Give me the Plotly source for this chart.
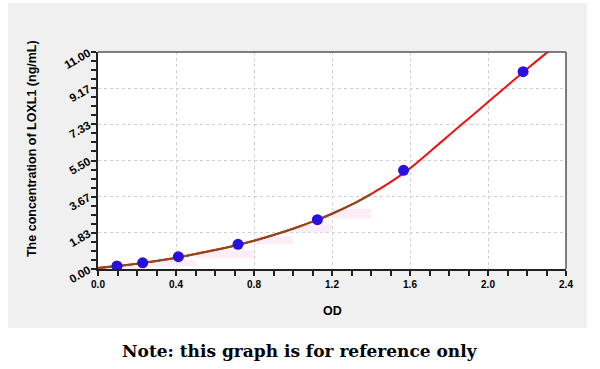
import plotly.graph_objects as go

# Standard points
od_points = [0.097, 0.229, 0.412, 0.718, 1.125, 1.567, 2.18]
conc_points = [0.156, 0.3125, 0.625, 1.25, 2.5, 5.0, 10.0]

# Fitted curve
curve_od = [0.0, 0.1, 0.2, 0.3, 0.4, 0.5, 0.6, 0.7, 0.8, 0.9, 1.0, 1.1, 1.2, 1.3,
            1.4, 1.5, 1.6, 1.7, 1.8, 1.9, 2.0, 2.1, 2.2, 2.3, 2.35]
curve_conc = [0.05, 0.15, 0.27, 0.41, 0.57, 0.76, 0.96, 1.18, 1.43, 1.72, 2.04, 2.40,
              2.80, 3.26, 3.80, 4.40, 5.10, 5.93, 6.78, 7.62, 8.46, 9.30, 10.14, 10.95, 11.35]
brown_od = curve_od[:15]
brown_conc = curve_conc[:15]

# Faint pink band (stepped)
band_od = [0.0, 0.2, 0.5, 0.8, 1.0, 1.2, 1.4]
band_lo = [0.0, 0.15, 0.55, 1.25, 1.85, 2.55, 3.55]
band_hi = [0.15, 0.45, 0.95, 1.65, 2.25, 3.05, 4.05]

y_ticks = [0.0, 1.83, 3.67, 5.50, 7.33, 9.17, 11.0]
y_tick_text = ["0.00", "1.83", "3.67", "5.50", "7.33", "9.17", "11.00"]
x_ticks = [0.0, 0.4, 0.8, 1.2, 1.6, 2.0, 2.4]
x_tick_text = ["0.0", "0.4", "0.8", "1.2", "1.6", "2.0", "2.4"]

FONT = "Liberation Sans"

fig = go.Figure()
fig.add_trace(go.Scatter(x=band_od, y=band_lo, mode="lines", line=dict(width=0, shape="hv"),
                         hoverinfo="skip", showlegend=False))
fig.add_trace(go.Scatter(x=band_od, y=band_hi, mode="lines", line=dict(width=0, shape="hv"),
                         fill="tonexty", fillcolor="rgba(252,225,245,0.6)",
                         hoverinfo="skip", showlegend=False))
fig.add_trace(go.Scatter(x=curve_od, y=curve_conc, mode="lines", line=dict(color="#ee1111", width=2),
                         line_shape="spline", showlegend=False))
fig.add_trace(go.Scatter(x=brown_od, y=brown_conc, mode="lines", line=dict(color="#8b4a1a", width=2),
                         line_shape="spline", showlegend=False))
fig.add_trace(go.Scatter(x=od_points, y=conc_points, mode="markers",
                         marker=dict(color="#2a10e0", size=11, line=dict(width=0)),
                         showlegend=False))

fig.update_layout(
    width=600, height=369,
    margin=dict(l=98, r=34, t=52, b=100),
    paper_bgcolor="white", plot_bgcolor="white",
    font=dict(family=FONT, color="black"),
    xaxis=dict(range=[0, 2.4], tickvals=x_ticks, ticktext=x_tick_text,
               showgrid=True, gridcolor="#cfcfcf", griddash="dot", gridwidth=1,
               zeroline=False, showline=True, linecolor="#222", linewidth=2,
               ticks="outside", ticklen=5, tickcolor="#222", tickwidth=1.5,
               tickfont=dict(size=10, family=FONT, weight="bold"),
               minor=dict(dtick=0.1, ticks="outside", ticklen=5, tickcolor="#222", tickwidth=1.5,
                          showgrid=False)),
    yaxis=dict(range=[0, 11], tickvals=y_ticks, ticktext=y_tick_text, tickangle=-30,
               showgrid=True, gridcolor="#cfcfcf", griddash="dot", gridwidth=1,
               zeroline=False, showline=True, linecolor="#222", linewidth=2,
               ticks="outside", ticklen=5, tickcolor="#222", tickwidth=1.5,
               tickfont=dict(size=11.5, family=FONT, weight="bold"),
               minor=dict(tick0=0, dtick=11 / 24, ticks="outside", ticklen=5, tickcolor="#222",
                          tickwidth=1.5, showgrid=False)),
    shapes=[
        dict(type="rect", xref="paper", yref="paper", x0=-0.1923, x1=1.0449, y0=-0.2719, y1=1.2258,
             fillcolor="#f0f0f0", line=dict(width=0), layer="below"),
        dict(type="rect", xref="paper", yref="paper", x0=0, x1=1, y0=0, y1=1,
             fillcolor="white", line=dict(width=0), layer="below"),
        dict(type="line", xref="paper", yref="paper", x0=0, x1=1, y0=1, y1=1,
             line=dict(color="#555", width=1.5)),
        dict(type="line", xref="paper", yref="paper", x0=1, x1=1, y0=0, y1=1,
             line=dict(color="#555", width=1.5)),
    ],
    annotations=[
        dict(text="<b>The concentration of LOXL1 (ng/mL)</b>", xref="paper", yref="paper",
             x=-0.141, y=0.553, textangle=-90, showarrow=False,
             font=dict(size=12.5, family=FONT), xanchor="center", yanchor="middle"),
        dict(text="<b>OD</b>", xref="paper", yref="paper", x=0.5, y=-0.1935, showarrow=False,
             font=dict(size=12.5, family=FONT), xanchor="center", yanchor="middle"),
        dict(text="<b>Note: this graph is for reference only</b>", xref="paper", yref="paper",
             x=0.4316, y=-0.378, showarrow=False,
             font=dict(size=17, family="DejaVu Serif"), xanchor="center", yanchor="middle"),
    ],
)

fig.write_html("out.html", post_script="document.body.style.margin='0';",
               config={"displayModeBar": False})
